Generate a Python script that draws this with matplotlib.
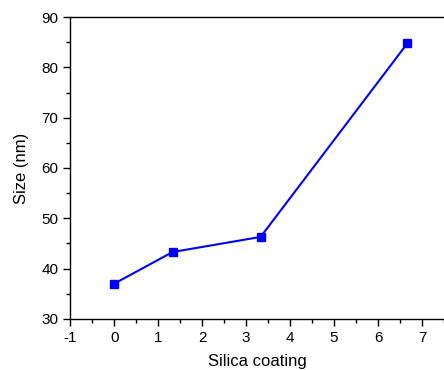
import matplotlib
matplotlib.use("Agg")
import matplotlib.pyplot as plt
from matplotlib.ticker import MultipleLocator

plt.rcParams['font.family'] = ['Liberation Sans', 'DejaVu Sans']
plt.rcParams['axes.unicode_minus'] = False

silica = [0, 1.33, 3.33, 6.67]
size_nm = [37.0, 43.3, 46.3, 84.8]

fig = plt.figure(figsize=(4.44, 3.70), dpi=100)
ax = fig.add_axes([0.158, 0.138, 0.842, 0.816])
ax.plot(silica, size_nm, color='#0000ff', lw=1.5, marker='s', ms=5.5,
        markerfacecolor='#0000ff', markeredgecolor='#0000ff')
ax.set_xlim(-1, 7.5)
ax.set_ylim(30, 90)
ax.xaxis.set_major_locator(MultipleLocator(1))
ax.xaxis.set_minor_locator(MultipleLocator(0.5))
ax.yaxis.set_major_locator(MultipleLocator(10))
ax.yaxis.set_minor_locator(MultipleLocator(5))
ax.spines['right'].set_visible(False)
for s in ax.spines.values():
    s.set_linewidth(1.0)
ax.tick_params(which='major', direction='out', length=5, width=1, labelsize=11,
               top=False, right=False)
ax.tick_params(which='minor', direction='out', length=3, width=1,
               top=False, right=False)
ax.set_xlabel('Silica coating', fontsize=12, labelpad=7)
ax.set_ylabel('Size (nm)', fontsize=12, labelpad=9)
fig.savefig('out.png', dpi=100)
